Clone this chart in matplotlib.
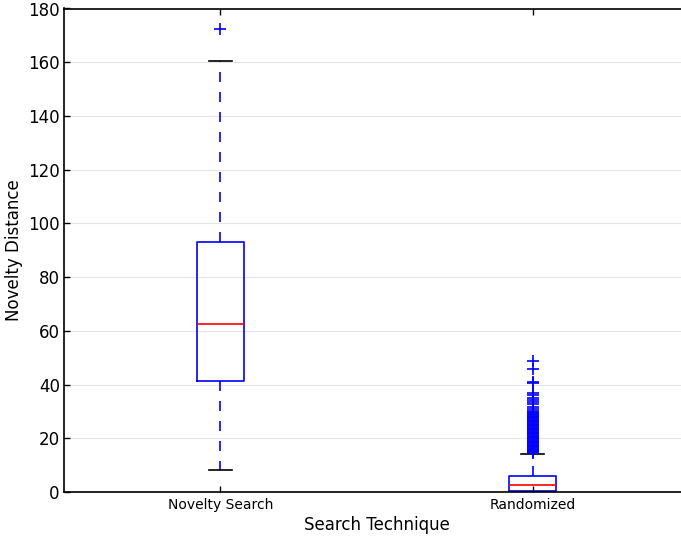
import matplotlib
matplotlib.use("Agg")
import matplotlib.pyplot as plt

categories = ["Novelty Search", "Randomized"]

# five-number summaries per technique
medians = [62.7, 2.5]
q1s = [41.5, 0.3]
q3s = [93.0, 6.0]
whisk_lo = [8.3, 0.0]
whisk_hi = [160.5, 14.2]

novelty_fliers = [172.2]
randomized_fliers = [
    14.6, 14.9, 15.2, 15.5, 15.8, 16.1, 16.4, 16.7, 17.0, 17.3, 17.6, 17.9,
    18.2, 18.5, 18.8, 19.1, 19.4, 19.7, 20.0, 20.3, 20.6, 20.9, 21.2, 21.5,
    21.8, 22.1, 22.4, 22.7, 23.0, 23.3, 23.6, 23.9, 24.2, 24.5, 24.8, 25.1,
    25.4, 25.7, 26.0, 26.3, 26.6, 26.9, 27.2, 27.5, 27.8, 28.1, 28.4, 28.7,
    29.0, 29.4, 29.8, 30.3, 30.8, 31.5, 32.6, 33.4, 34.2, 35.0, 36.1, 36.8,
    40.4, 41.0, 45.8, 48.6,
]
fliers = [novelty_fliers, randomized_fliers]

stats = []
for i, name in enumerate(categories):
    stats.append(dict(label=name, med=medians[i], q1=q1s[i], q3=q3s[i],
                      whislo=whisk_lo[i], whishi=whisk_hi[i], fliers=fliers[i]))

fig = plt.figure(figsize=(6.81, 5.37), dpi=100)
ax = fig.add_axes([64 / 681, 45 / 537, 625 / 681, 483.5 / 537])

ax.bxp(stats, positions=[1, 2], widths=0.15,
       boxprops=dict(color="blue", linewidth=1.2),
       whiskerprops=dict(color="blue", linewidth=1.2, linestyle=(0, (6, 6))),
       capprops=dict(color="black", linewidth=1.2),
       medianprops=dict(color="red", linewidth=1.2),
       flierprops=dict(marker="+", markeredgecolor="blue", markersize=8,
                       markeredgewidth=1.2, linestyle="none"))

ax.set_xlim(0.5, 2.5)
ax.set_ylim(0, 180)
ax.set_yticks(range(0, 181, 20))
ax.yaxis.grid(True, color="#e6e6e6", linewidth=0.8)
ax.set_axisbelow(True)

ax.tick_params(axis="both", direction="in", top=True, right=False, length=4,
               width=1, color="black")
ax.tick_params(axis="y", labelsize=12, pad=3)
ax.tick_params(axis="x", labelsize=10, pad=4)
for s in ax.spines.values():
    s.set_linewidth(1.2)
ax.spines["right"].set_visible(False)

ax.set_xlabel("Search Technique", fontsize=12, labelpad=3)
ax.set_ylabel("Novelty Distance", fontsize=12, labelpad=4)

fig.savefig("out.png", dpi=100)
